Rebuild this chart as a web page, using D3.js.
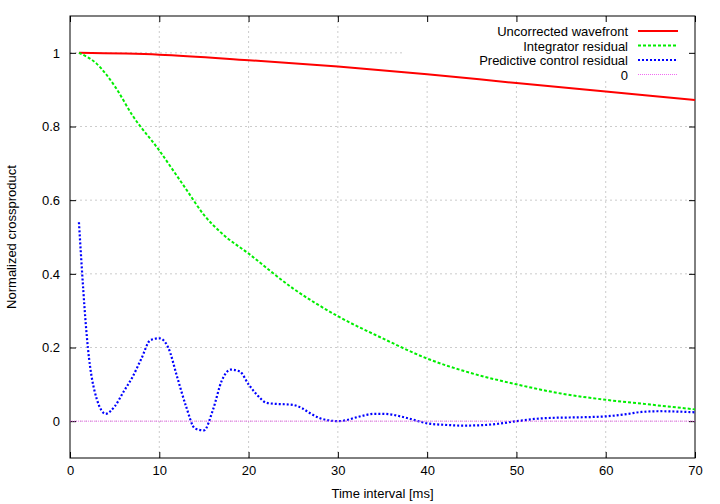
<!DOCTYPE html>
<html><head><meta charset="utf-8">
<script src="https://cdn.jsdelivr.net/npm/d3@7"></script>
<style>body{margin:0;background:#fff}text{font-family:"Liberation Sans",Arial,sans-serif;font-size:13px}</style>
</head><body><div id="chart"></div>
<script>
var red_x = [1, 10, 20, 30, 40, 50, 60, 70];
var red_y = [1.0, 0.995, 0.98, 0.963, 0.942, 0.918, 0.895, 0.872];
var green_x = [1, 3, 5, 7, 10, 12, 13, 15, 17, 20, 25, 30, 35, 40, 45, 50, 55, 60, 65, 70];
var green_y = [1.0, 0.97, 0.91, 0.83, 0.735, 0.665, 0.63, 0.56, 0.51, 0.455, 0.36, 0.285, 0.225, 0.17, 0.13, 0.1, 0.075, 0.058, 0.045, 0.032];
var blue_x = [1,2,3,4,5,6,7,8,9,10,11,12,13,14,15,16,17,18,19,20,21,22,23,24,25,26,27,28,29,30,31,32,33,34,35,36,37,38,39,40,42,44,46,48,50,52,54,56,58,60,62,64,66,68,70];
var blue_y = [0.54,0.2,0.06,0.02,0.04,0.08,0.12,0.17,0.22,0.225,0.2,0.12,0.04,-0.02,-0.025,0.03,0.11,0.14,0.135,0.1,0.07,0.05,0.047,0.046,0.044,0.035,0.02,0.008,0.002,0.0,0.003,0.01,0.016,0.02,0.02,0.018,0.013,0.007,0.0,-0.006,-0.01,-0.012,-0.011,-0.007,0.0,0.006,0.009,0.01,0.011,0.013,0.018,0.025,0.027,0.026,0.024];
var x_ticks = [0, 10, 20, 30, 40, 50, 60, 70];
var y_ticks = [0, 0.2, 0.4, 0.6, 0.8, 1];
var legend_names = ['Uncorrected wavefront', 'Integrator residual', 'Predictive control residual', '0'];

var width = 720, height = 504;
var L = 70, R = 695, T = 16, B = 458;
var svg = d3.select('#chart').append('svg').attr('width', width).attr('height', height);
var x = d3.scaleLinear().domain([0, 70]).range([L, R]);
var y = d3.scaleLinear().domain([-0.1, 1.1]).range([B, T]);

// grid
x_ticks.slice(1, -1).forEach(function(t){
  svg.append('line').attr('x1', x(t)).attr('x2', x(t)).attr('y1', B).attr('y2', T)
    .style('stroke', '#aaa').style('stroke-width', 0.6).style('stroke-dasharray', '2,3');
});
y_ticks.forEach(function(t){
  svg.append('line').attr('x1', L).attr('x2', R).attr('y1', y(t)).attr('y2', y(t))
    .style('stroke', '#aaa').style('stroke-width', 0.6).style('stroke-dasharray', '2,3');
});
// legend background hides grid
svg.append('rect').attr('x', 402).attr('y', T + 1).attr('width', R - 403).attr('height', 64).attr('fill', '#fff');

// axes
var xa = svg.append('g').attr('transform', 'translate(0,' + B + ')')
  .call(d3.axisBottom(x).tickValues(x_ticks).tickSize(-6).tickPadding(8).tickFormat(d3.format('d')));
var xt = svg.append('g').attr('transform', 'translate(0,' + T + ')')
  .call(d3.axisTop(x).tickValues(x_ticks).tickSize(-6).tickFormat(''));
var ya = svg.append('g').attr('transform', 'translate(' + L + ',0)')
  .call(d3.axisLeft(y).tickValues(y_ticks).tickSize(-6).tickPadding(10).tickFormat(function(d){ return d3.format('~g')(d); }));
var yr = svg.append('g').attr('transform', 'translate(' + R + ',0)')
  .call(d3.axisRight(y).tickValues(y_ticks).tickSize(-6).tickFormat(''));
[xa, xt, ya, yr].forEach(function(g){
  g.select('.domain').remove();
  g.selectAll('line').style('stroke', '#000');
  g.selectAll('text').style('font-size', '13px').style('font-family', '"Liberation Sans",Arial,sans-serif');
});
svg.append('rect').attr('x', L).attr('y', T).attr('width', R - L).attr('height', B - T)
  .attr('fill', 'none').style('stroke', '#000');

svg.append('text').attr('x', (L + R) / 2).attr('y', 498).attr('text-anchor', 'middle').text('Time interval [ms]');
svg.append('text').attr('transform', 'translate(16,' + ((T + B) / 2) + ') rotate(-90)')
  .attr('text-anchor', 'middle').text('Normalized crossproduct');

var series = [
  {xs: red_x, ys: red_y, color: '#ff0000', dash: null, w: 2},
  {xs: green_x, ys: green_y, color: '#00ee00', dash: '3,2', w: 2},
  {xs: blue_x, ys: blue_y, color: '#0000ff', dash: '2,2', w: 2.2},
  {xs: [0, 70], ys: [0, 0], color: '#ee44ee', dash: '1,1', w: 0.8}
];
var line = d3.line().curve(d3.curveMonotoneX).x(function(d){ return x(d[0]); }).y(function(d){ return y(d[1]); });
series.forEach(function(s){
  svg.append('path').datum(d3.zip(s.xs, s.ys)).attr('d', line).attr('fill', 'none')
    .style('stroke', s.color).style('stroke-width', s.w).style('stroke-dasharray', s.dash);
});

// legend
legend_names.forEach(function(n, i){
  var ly = 31 + i * 14.5;
  svg.append('text').attr('x', 628).attr('y', ly + 5).attr('text-anchor', 'end').text(n);
  var s = series[i];
  svg.append('line').attr('x1', 638).attr('x2', 678).attr('y1', ly).attr('y2', ly)
    .style('stroke', s.color).style('stroke-width', s.w).style('stroke-dasharray', s.dash);
});
</script></body></html>
